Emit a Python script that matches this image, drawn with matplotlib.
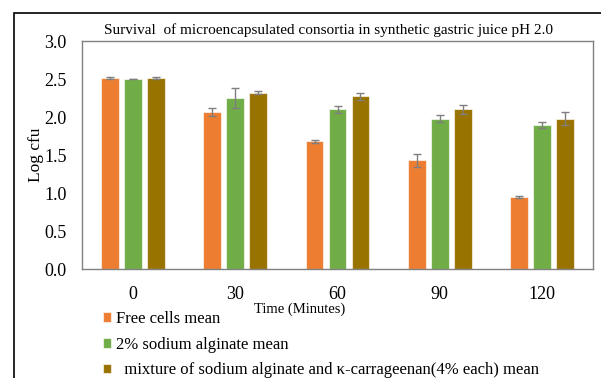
import numpy as np
import matplotlib
matplotlib.use('Agg')
import matplotlib.pyplot as plt
from matplotlib.patches import Rectangle

plt.rcParams['font.family'] = ['Liberation Serif', 'DejaVu Serif']

times = ['0', '30', '60', '90', '120']
series = ['Free cells mean',
          '2% sodium alginate mean',
          '  mixture of sodium alginate and κ-carrageenan(4% each) mean']
free_cells = [2.51, 2.07, 1.68, 1.43, 0.95]
free_err = [0.01, 0.055, 0.02, 0.085, 0.01]
alginate = [2.50, 2.25, 2.10, 1.98, 1.89]
alginate_err = [0.005, 0.13, 0.045, 0.04, 0.04]
mixture = [2.51, 2.32, 2.27, 2.10, 1.98]
mixture_err = [0.015, 0.02, 0.05, 0.055, 0.08]
colors = ['#ED7D31', '#70AD47', '#997300']

fig = plt.figure(figsize=(6.01, 3.78), dpi=100)
ax = fig.add_axes([82/601, 1-269/378, 511/601, 228/378])

x = np.arange(len(times))
w = 0.176
step = 0.225
for i, (vals, errs) in enumerate([(free_cells, free_err), (alginate, alginate_err), (mixture, mixture_err)]):
    ax.bar(x + (i-1)*step, vals, w, color=colors[i], edgecolor=(1, 1, 1, 0.6),
           linewidth=0.8, label=series[i],
           yerr=errs, error_kw=dict(ecolor='#7f7f7f', elinewidth=1, capsize=3, capthick=1))

ax.set_xlim(-0.5, 4.5)
ax.set_ylim(0, 3.0)
ax.set_yticks(np.arange(0, 3.01, 0.5))
ax.set_yticklabels([f'{v:.1f}' for v in np.arange(0, 3.01, 0.5)], fontsize=13)
ax.set_xticks(x)
ax.set_xticklabels(times, fontsize=13)
ax.tick_params(axis='y', length=0, pad=11)
ax.tick_params(axis='x', length=0, pad=12)
for s in ax.spines.values():
    s.set_color('#808080')
    s.set_linewidth(1)

ax.set_ylabel('Log cfu', fontsize=12.5, labelpad=0)
fig.text(329/601, 1-30/378, 'Survival  of microencapsulated consortia in synthetic gastric juice pH 2.0',
         ha='center', va='center', fontsize=11)
fig.text(300/601, 1-309/378, 'Time (Minutes)', ha='center', va='center', fontsize=10.5)

ax.legend(loc='upper left', bbox_to_anchor=(103/601, 1-311/378), bbox_transform=fig.transFigure,
          frameon=False, fontsize=12, handlelength=0.5, handleheight=0.5, handletextpad=0.3,
          labelspacing=0.58, borderaxespad=0, borderpad=0)

fig.patches.append(Rectangle((13.5/601, -0.1), 2, 1.1 - 13/378, transform=fig.transFigure,
                             fill=False, edgecolor='black', linewidth=1.2))

fig.savefig('out.png', dpi=100)
